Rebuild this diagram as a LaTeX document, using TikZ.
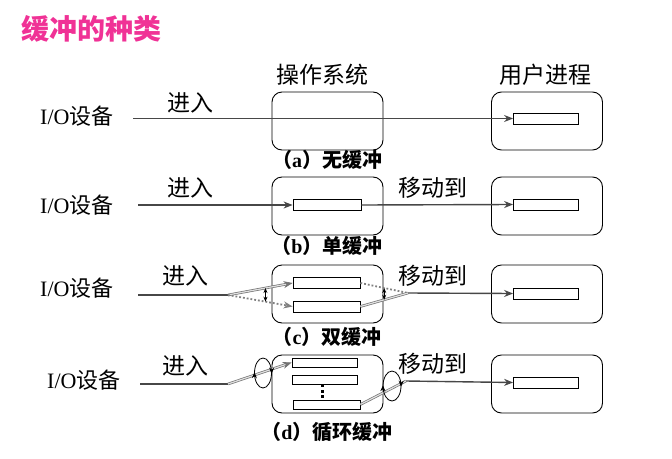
\documentclass[tikz,border=0pt]{standalone}
\usepackage{fontspec}
\setmainfont{Liberation Serif}
\newfontfamily\cjk{Noto Sans CJK SC}
\usepackage{tikz}
\usetikzlibrary{arrows.meta,positioning,decorations.markings}
\definecolor{titlepink}{RGB}{240,50,150}

\begin{document}
\begin{tikzpicture}[x=1pt,y=-1pt,
	box/.style={draw, line width=0.9pt, rounded corners=10pt, minimum width=111pt, minimum height=58pt, inner sep=0pt},
	buf/.style={draw, line width=0.8pt, fill=white, minimum width=65pt, minimum height=11pt, inner sep=0pt},
	lbl/.style={font=\fontsize{23}{26}\selectfont\cjk, inner sep=0pt},
	dev/.style={font=\fontsize{22}{26}\selectfont, inner sep=0pt},
	captext/.style={font=\fontsize{20}{24}\selectfont\bfseries, inner sep=0pt},
	flow/.style={draw=black!72, line width=1.4pt},
	dbl/.style={draw=black!55, line width=0.7pt, double=black!12, double distance=1.2pt},
	dotline/.style={draw=black!50, line width=1.8pt, dotted},
	arr/.style={-{Stealth[length=9pt,width=7pt]}},
	gapmark/.style={line width=0.8pt, {Stealth[length=5pt,width=4pt]}-{Stealth[length=5pt,width=4pt]}},
	ring/.style={line width=0.8pt, postaction={decorate},
		decoration={markings,
			mark=at position 0.01 with {\arrow{Stealth[length=6pt,width=5pt]}},
			mark=at position 0.51 with {\arrow{Stealth[length=6pt,width=5pt]}}}}]
	\useasboundingbox (0,0) rectangle (672,458);

	% title
	\node[anchor=west, inner sep=0pt, text=titlepink, font=\fontsize{28}{32}\selectfont\cjk\bfseries] (title) at (21,29) {缓冲的种类};
	\node[lbl] (osl) at (322,75) {操作系统};
	\node[lbl] (usl) at (545,75) {用户进程};

	% (a) no buffer
	\node[dev, anchor=west] (io-a) at (40,116) {I/O{\cjk 设备}};
	\node[lbl] (in-a) at (190,103) {进入};
	\node[box] (os-a) at (327.5,121) {};
	\node[box] (us-a) at (547,121) {};
	\node[buf] (ubuf-a) at (546,118.5) {};
	\node[captext] (cap-a) at (327,160) {{\cjk （}a{\cjk ）无缓冲}};
	\coordinate (a0) at (133,118.5);
	\path (a0) edge[flow,arr] (ubuf-a.west);

	% (b) single buffer
	\node[dev, anchor=west] (io-b) at (40,205) {I/O{\cjk 设备}};
	\node[lbl] (in-b) at (190,188) {进入};
	\node[lbl] (mv-b) at (433,188) {移动到};
	\node[box] (os-b) at (327.5,206) {};
	\node[box] (us-b) at (547,206) {};
	\node[buf, minimum width=68pt] (buf-b) at (327,205) {};
	\node[buf] (ubuf-b) at (546,204.5) {};
	\node[captext] (cap-b) at (327,246) {{\cjk （}b{\cjk ）单缓冲}};
	\coordinate (b0) at (138,205);
	\path (b0) edge[flow,arr] (buf-b.west)
		(buf-b.east) edge[flow,arr] (ubuf-b.west);

	% (c) double buffer
	\node[dev, anchor=west] (io-c) at (40,288) {I/O{\cjk 设备}};
	\node[lbl] (in-c) at (185,276) {进入};
	\node[lbl] (mv-c) at (433,276) {移动到};
	\node[box] (os-c) at (327.5,294) {};
	\node[box] (us-c) at (547,294) {};
	\node[buf, minimum width=67pt] (bufc1) at (326.5,283) {};
	\node[buf, minimum width=67pt] (bufc2) at (326.5,306.5) {};
	\node[buf] (ubuf-c) at (546,293.5) {};
	\node[captext] (cap-c) at (327,337) {{\cjk （}c{\cjk ）双缓冲}};
	\coordinate (c0) at (138,295);
	\coordinate (c1) at (228,295);
	\coordinate (c2) at (408,293);
	\draw[flow] (c0) -- (c1);
	\draw[dbl,arr] (c1) -- (bufc1.west);
	\draw[dotline,arr] (c1) -- (bufc2.west);
	\draw[dotline] (bufc1.east) -- (c2);
	\draw[dbl] (bufc2.east) -- (c2);
	\path (c2) edge[flow,arr] (ubuf-c.west);
	\path (c1) -- (bufc1.west) coordinate[pos=0.58] (cu1);
	\path (c1) -- (bufc2.west) coordinate[pos=0.58] (cl1);
	\path (bufc1.east) -- (c2) coordinate[pos=0.5] (cu2);
	\path (bufc2.east) -- (c2) coordinate[pos=0.5] (cl2);
	\draw[gapmark] (cu1) -- (cl1);
	\draw[gapmark] (cu2) -- (cl2);

	% (d) circular buffer
	\node[dev, anchor=west] (io-d) at (47,380) {I/O{\cjk 设备}};
	\node[lbl] (in-d) at (185,366) {进入};
	\node[lbl] (mv-d) at (433,364) {移动到};
	\node[box] (os-d) at (327.5,384) {};
	\node[box] (us-d) at (547,384) {};
	\node[buf, minimum height=9pt] (bufd1) at (324.5,362.5) {};
	\node[buf, minimum height=9pt] (bufd2) at (324.5,379.5) {};
	\foreach \yy in {384,389.5,395}
		\fill (320.5,\yy) rectangle +(3,3);
	\node[buf, minimum width=67pt, minimum height=9pt] (bufd3) at (326.5,404.5) {};
	\node[buf] (ubuf-d) at (546,382.5) {};
	\node[captext] (cap-d) at (327,432) {{\cjk （}d{\cjk ）循环缓冲}};
	\coordinate (d0) at (140,384);
	\coordinate (d1) at (228,384);
	\coordinate (d2) at (406,381);
	\draw[flow] (d0) -- (d1);
	\draw[dbl,arr] (d1) -- (bufd1.west);
	\draw[dbl] (bufd3.east) -- (d2);
	\path (d2) edge[flow,arr] (ubuf-d.west);
	\draw[ring] (263,373) ellipse (8.5 and 15);
	\draw[ring] (392,386) ellipse (9 and 15);
\end{tikzpicture}
\end{document}
